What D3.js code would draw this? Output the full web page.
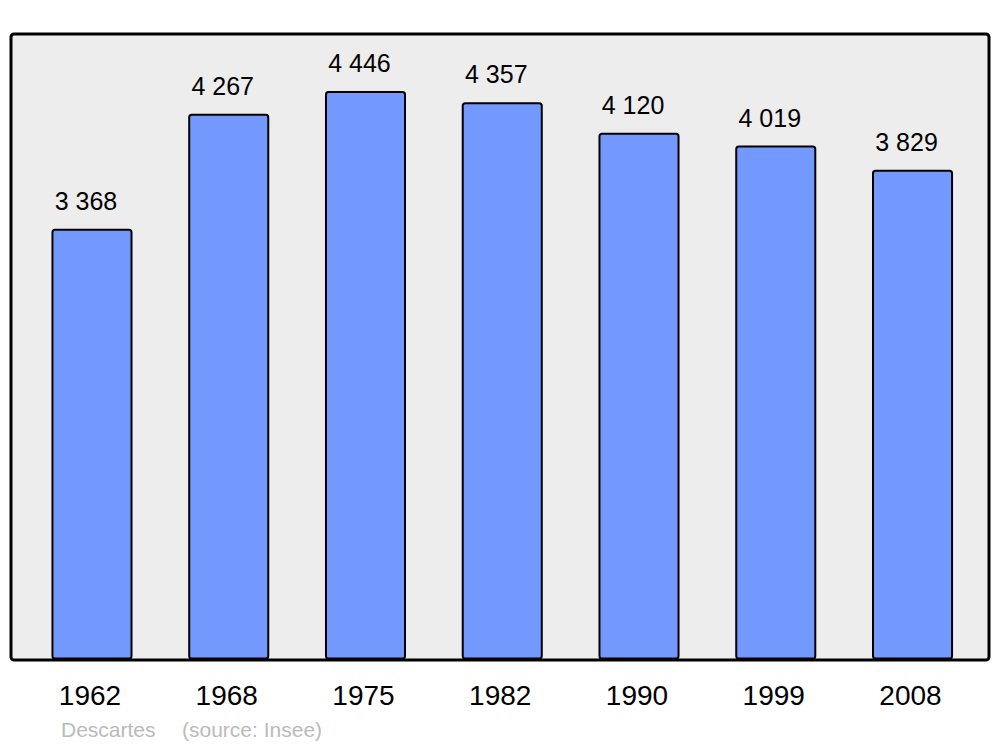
<!DOCTYPE html>
<html>
<head>
<meta charset="utf-8">
<script src="https://cdn.jsdelivr.net/npm/d3@7"></script>
<style>
  body { margin: 0; background: #fff; }
  svg { display: block; font-family: "Liberation Sans", Arial, sans-serif; }
</style>
</head>
<body>
<svg id="chart" width="1000" height="747"></svg>
<script>
// population of Descartes by census year
var years = ["1962", "1968", "1975", "1982", "1990", "1999", "2008"];
var population = [3368, 4267, 4446, 4357, 4120, 4019, 3829];
var valueLabels = ["3 368", "4 267", "4 446", "4 357", "4 120", "4 019", "3 829"];
var caption = ["Descartes", "(source: Insee)"];

var svg = d3.select("#chart"),
    width = +svg.attr("width"),
    height = +svg.attr("height");

var frame = { left: 11, top: 34, right: 989, bottom: 660 };

var x = d3.scaleBand()
    .domain(years)
    .range([23.6, 980.9])
    .paddingInner(0.422)
    .paddingOuter(0.211);

var y = d3.scaleLinear()
    .domain([0, 4900])
    .range([frame.bottom, frame.top]);

// background panel
svg.append("rect")
    .attr("x", frame.left)
    .attr("y", frame.top)
    .attr("width", frame.right - frame.left)
    .attr("height", frame.bottom - frame.top)
    .attr("rx", 3)
    .attr("fill", "#ededed");

// bars
svg.selectAll("rect.bar")
    .data(population)
    .enter().append("rect")
    .attr("class", "bar")
    .attr("x", function (d, i) { return x(years[i]); })
    .attr("y", function (d) { return y(d); })
    .attr("width", x.bandwidth())
    .attr("height", function (d) { return y(0) - y(d) - 1.5; })
    .attr("rx", 2.5)
    .attr("fill", "#7399ff")
    .attr("stroke", "#000")
    .attr("stroke-width", 2);

// value labels
svg.selectAll("text.value")
    .data(population)
    .enter().append("text")
    .attr("class", "value")
    .attr("x", function (d, i) { return x(years[i]) + x.bandwidth() / 2 - 6; })
    .attr("y", function (d) { return y(d) - 20; })
    .attr("text-anchor", "middle")
    .attr("font-size", 25)
    .attr("fill", "#000")
    .text(function (d, i) { return valueLabels[i]; });

// frame border on top of bars
svg.append("rect")
    .attr("x", frame.left)
    .attr("y", frame.top)
    .attr("width", frame.right - frame.left)
    .attr("height", frame.bottom - frame.top)
    .attr("rx", 3)
    .attr("fill", "none")
    .attr("stroke", "#000")
    .attr("stroke-width", 3);

// year labels
svg.selectAll("text.year")
    .data(years)
    .enter().append("text")
    .attr("class", "year")
    .attr("x", function (d) { return x(d) + x.bandwidth() / 2 - 2; })
    .attr("y", 705)
    .attr("text-anchor", "middle")
    .attr("font-size", 28)
    .attr("fill", "#000")
    .text(function (d) { return d; });

// caption
svg.append("text")
    .attr("x", 61)
    .attr("y", 737)
    .attr("font-size", 21)
    .attr("fill", "#bbbbbb")
    .text(caption[0]);
svg.append("text")
    .attr("x", 182)
    .attr("y", 737)
    .attr("font-size", 21)
    .attr("fill", "#bbbbbb")
    .text(caption[1]);
</script>
</body>
</html>
